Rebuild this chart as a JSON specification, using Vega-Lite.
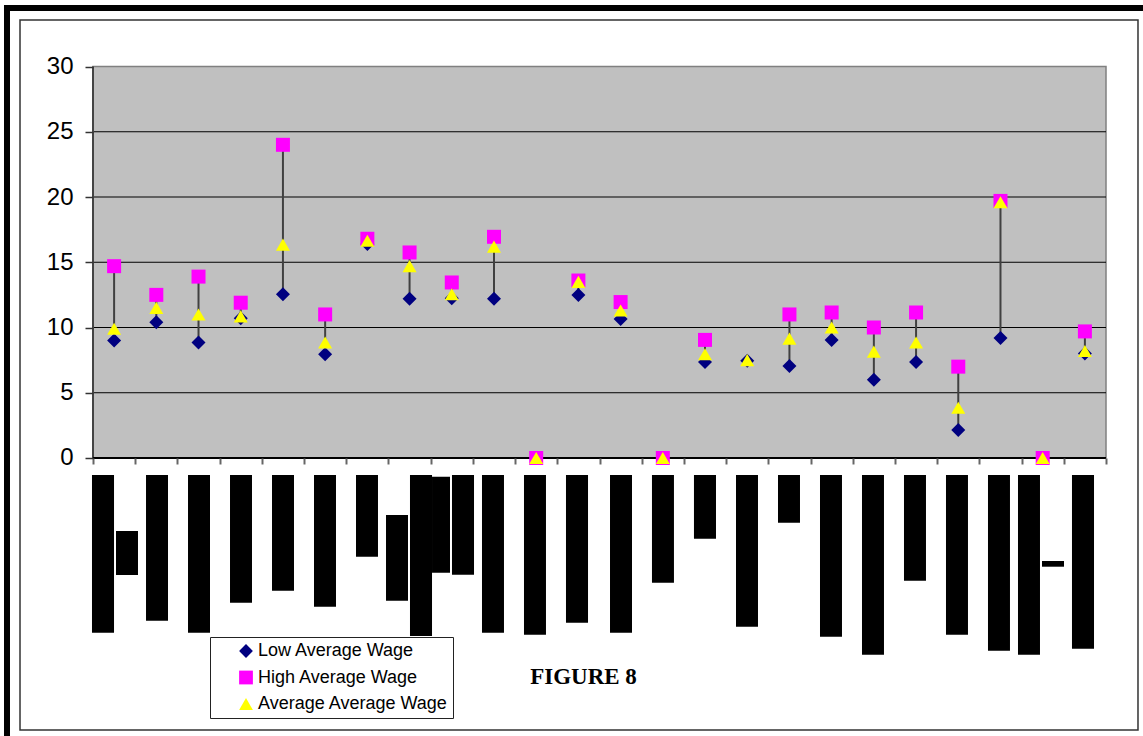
{
  "$schema": "https://vega.github.io/schema/vega-lite/v6.json",
  "width": 1143,
  "height": 736,
  "autosize": "none",
  "padding": 0,
  "background": "white",
  "config": {"view": {"stroke": null}},
  "data": {"values": [
    {"cat": 1, "low": 9.0, "high": 14.7, "avg": 9.9},
    {"cat": 2, "low": 10.4, "high": 12.5, "avg": 11.5},
    {"cat": 3, "low": 8.85, "high": 13.9, "avg": 11.0},
    {"cat": 4, "low": 10.7, "high": 11.9, "avg": 10.85},
    {"cat": 5, "low": 12.55, "high": 24.0, "avg": 16.35},
    {"cat": 6, "low": 7.95, "high": 11.0, "avg": 8.85},
    {"cat": 7, "low": 16.4, "high": 16.8, "avg": 16.65},
    {"cat": 8, "low": 12.2, "high": 15.75, "avg": 14.7},
    {"cat": 9, "low": 12.25, "high": 13.45, "avg": 12.55},
    {"cat": 10, "low": 12.2, "high": 16.95, "avg": 16.2},
    {"cat": 11, "low": 0, "high": 0, "avg": 0},
    {"cat": 12, "low": 12.5, "high": 13.6, "avg": 13.5},
    {"cat": 13, "low": 10.65, "high": 11.95, "avg": 11.3},
    {"cat": 14, "low": 0, "high": 0, "avg": 0},
    {"cat": 15, "low": 7.35, "high": 9.05, "avg": 7.95},
    {"cat": 16, "low": 7.45, "high": null, "avg": 7.5},
    {"cat": 17, "low": 7.05, "high": 11.0, "avg": 9.15},
    {"cat": 18, "low": 9.05, "high": 11.15, "avg": 10.0},
    {"cat": 19, "low": 6.0, "high": 10.0, "avg": 8.15},
    {"cat": 20, "low": 7.35, "high": 11.15, "avg": 8.85},
    {"cat": 21, "low": 2.15, "high": 7.0, "avg": 3.85},
    {"cat": 22, "low": 9.2, "high": 19.7, "avg": 19.6},
    {"cat": 23, "low": 0, "high": 0, "avg": 0},
    {"cat": 24, "low": 8.0, "high": 9.7, "avg": 8.2}
  ]},
  "datasets": {
    "grid": [{"g": 5}, {"g": 10}, {"g": 15}, {"g": 20}, {"g": 25}],
    "labels": [
      {"from": 0.476, "to": 0.998, "start": -1.303, "end": -13.387},
      {"from": 1.045, "to": 1.566, "start": -5.594, "end": -8.966},
      {"from": 1.756, "to": 2.277, "start": -1.303, "end": -12.467},
      {"from": 2.751, "to": 3.272, "start": -1.303, "end": -13.387},
      {"from": 3.746, "to": 4.267, "start": -1.303, "end": -11.088},
      {"from": 4.741, "to": 5.262, "start": -1.303, "end": -10.169},
      {"from": 5.736, "to": 6.257, "start": -1.303, "end": -11.395},
      {"from": 6.731, "to": 7.252, "start": -1.303, "end": -7.563},
      {"from": 7.442, "to": 7.963, "start": -4.368, "end": -10.935},
      {"from": 8.010, "to": 8.532, "start": -1.303, "end": -13.640},
      {"from": 8.532, "to": 8.958, "start": -1.433, "end": -8.789},
      {"from": 9.005, "to": 9.527, "start": -1.303, "end": -8.943},
      {"from": 9.716, "to": 10.237, "start": -1.303, "end": -13.387},
      {"from": 10.711, "to": 11.232, "start": -1.303, "end": -13.540},
      {"from": 11.706, "to": 12.228, "start": -1.303, "end": -12.621},
      {"from": 12.749, "to": 13.270, "start": -1.303, "end": -13.387},
      {"from": 13.743, "to": 14.264, "start": -1.303, "end": -9.556},
      {"from": 14.738, "to": 15.260, "start": -1.303, "end": -6.184},
      {"from": 15.734, "to": 16.255, "start": -1.303, "end": -12.927},
      {"from": 16.729, "to": 17.250, "start": -1.303, "end": -4.958},
      {"from": 17.724, "to": 18.245, "start": -1.303, "end": -13.693},
      {"from": 18.719, "to": 19.240, "start": -1.303, "end": -15.073},
      {"from": 19.714, "to": 20.235, "start": -1.303, "end": -9.402},
      {"from": 20.709, "to": 21.230, "start": -1.303, "end": -13.540},
      {"from": 21.704, "to": 22.225, "start": -1.303, "end": -14.766},
      {"from": 22.415, "to": 22.936, "start": -1.303, "end": -15.073},
      {"from": 22.984, "to": 23.505, "start": -7.893, "end": -8.330},
      {"from": 23.694, "to": 24.216, "start": -1.303, "end": -14.613}
    ]
  },
  "layer": [
    {
      "data": {"values": [{}]},
      "mark": {"type": "rect", "fill": null, "fillOpacity": 0, "stroke": "#333333", "strokeWidth": 1.5},
      "encoding": {
        "x": {"datum": -1.2295, "type": "quantitative", "title": null,
              "scale": {"domain": [-1.70336, 25.3766], "nice": false, "zero": false},
              "axis": {"orient": "bottom", "offset": -278, "values": [0.5,1.5,2.5,3.5,4.5,5.5,6.5,7.5,8.5,9.5,10.5,11.5,12.5,13.5,14.5,15.5,16.5,17.5,18.5,19.5,20.5,21.5,22.5,23.5,24.5],
                       "domain": false, "grid": false, "labels": false, "tickSize": 6, "tickColor": "#666666", "tickWidth": 2, "title": null, "zindex": 1}},
        "x2": {"datum": 25.258},
        "y": {"datum": 33.563, "type": "quantitative", "title": null,
              "scale": {"domain": [-21.3027, 35.0958], "nice": false, "zero": false},
              "axis": {"orient": "left", "offset": -93, "values": [0, 5, 10, 15, 20, 25, 30],
                       "domain": false, "grid": false, "tickSize": 8, "tickColor": "#333333", "tickWidth": 1.5,
                       "labelFont": "Liberation Sans", "labelFontSize": 24, "labelColor": "black", "labelPadding": 12, "title": null, "zindex": 1}},
        "y2": {"datum": -20.843}
      }
    },
    {
      "data": {"values": [{}]},
      "mark": {"type": "rect", "fill": "black"},
      "encoding": {
        "x": {"datum": -1.6086, "type": "quantitative", "title": null, "scale": {"domain": [-1.70336, 25.3766], "nice": false, "zero": false}},
        "x2": {"datum": 25.3766},
        "y": {"datum": 34.713, "type": "quantitative", "title": null, "scale": {"domain": [-21.3027, 35.0958], "nice": false, "zero": false}},
        "y2": {"datum": 34.253}
      }
    },
    {
      "data": {"values": [{}]},
      "mark": {"type": "rect", "fill": "black"},
      "encoding": {
        "x": {"datum": -1.6086, "type": "quantitative", "title": null, "scale": {"domain": [-1.70336, 25.3766], "nice": false, "zero": false}},
        "x2": {"datum": -1.4665},
        "y": {"datum": 34.713, "type": "quantitative", "title": null, "scale": {"domain": [-21.3027, 35.0958], "nice": false, "zero": false}},
        "y2": {"datum": -21.3027}
      }
    },
    {
      "data": {"values": [{}]},
      "mark": {"type": "rect", "fill": "#C0C0C0", "stroke": "#808080", "strokeWidth": 1.5},
      "encoding": {
        "x": {"datum": 0.5, "type": "quantitative", "title": null, "scale": {"domain": [-1.70336, 25.3766], "nice": false, "zero": false}},
        "x2": {"datum": 24.5},
        "y": {"datum": 0, "type": "quantitative", "title": null, "scale": {"domain": [-21.3027, 35.0958], "nice": false, "zero": false}},
        "y2": {"datum": 30}
      }
    },
    {
      "data": {"name": "grid"},
      "mark": {"type": "rule", "color": "black", "strokeWidth": 1},
      "encoding": {
        "x": {"datum": 0.5, "type": "quantitative", "title": null, "scale": {"domain": [-1.70336, 25.3766], "nice": false, "zero": false}},
        "x2": {"datum": 24.5},
        "y": {"field": "g", "type": "quantitative", "title": null, "scale": {"domain": [-21.3027, 35.0958], "nice": false, "zero": false}}
      }
    },
    {
      "data": {"values": [{}]},
      "mark": {"type": "rule", "color": "#444444", "strokeWidth": 2},
      "encoding": {
        "x": {"datum": 0.5, "type": "quantitative", "title": null, "scale": {"domain": [-1.70336, 25.3766], "nice": false, "zero": false}},
        "y": {"datum": 0, "type": "quantitative", "title": null, "scale": {"domain": [-21.3027, 35.0958], "nice": false, "zero": false}},
        "y2": {"datum": 30}
      }
    },
    {
      "data": {"values": [{}]},
      "mark": {"type": "rule", "color": "black", "strokeWidth": 2},
      "encoding": {
        "x": {"datum": 0.5, "type": "quantitative", "title": null, "scale": {"domain": [-1.70336, 25.3766], "nice": false, "zero": false}},
        "x2": {"datum": 24.5},
        "y": {"datum": 0, "type": "quantitative", "title": null, "scale": {"domain": [-21.3027, 35.0958], "nice": false, "zero": false}}
      }
    },
    {
      "data": {"name": "labels"},
      "mark": {"type": "rect", "fill": "black"},
      "encoding": {
        "x": {"field": "from", "type": "quantitative", "title": null, "scale": {"domain": [-1.70336, 25.3766], "nice": false, "zero": false}},
        "x2": {"field": "to"},
        "y": {"field": "start", "type": "quantitative", "title": null, "scale": {"domain": [-21.3027, 35.0958], "nice": false, "zero": false}},
        "y2": {"field": "end"}
      }
    },
    {
      "transform": [{"filter": "datum.high != null"}],
      "mark": {"type": "rule", "color": "#404040", "strokeWidth": 2},
      "encoding": {
        "x": {"field": "cat", "type": "quantitative", "title": null, "scale": {"domain": [-1.70336, 25.3766], "nice": false, "zero": false}},
        "y": {"field": "low", "type": "quantitative", "title": null, "scale": {"domain": [-21.3027, 35.0958], "nice": false, "zero": false}},
        "y2": {"field": "high"}
      }
    },
    {
      "transform": [{"fold": ["low", "high", "avg"], "as": ["series", "wage"]}],
      "mark": {"type": "point", "filled": true, "size": 196, "opacity": 1, "strokeWidth": 0},
      "encoding": {
        "x": {"field": "cat", "type": "quantitative", "title": null, "scale": {"domain": [-1.70336, 25.3766], "nice": false, "zero": false}},
        "y": {"field": "wage", "type": "quantitative", "title": null, "scale": {"domain": [-21.3027, 35.0958], "nice": false, "zero": false}},
        "color": {"field": "series", "type": "nominal",
                  "scale": {"domain": ["low", "high", "avg"], "range": ["#000080", "#FF00FF", "#FFFF00"]},
                  "legend": {"title": null, "orient": "none", "legendX": 210, "legendY": 637, "padding": 5,
                             "symbolOffset": 22, "labelOffset": 3, "rowPadding": 8.5, "labelLimit": 400,
                             "labelFont": "Liberation Sans", "labelFontSize": 18, "labelColor": "black",
                             "strokeColor": "#222222", "fillColor": "white", "symbolSize": 190, "symbolStrokeWidth": 0,
                             "labelExpr": "datum.label == 'low' ? 'Low Average Wage' : datum.label == 'high' ? 'High Average Wage' : 'Average Average Wage'"}},
        "shape": {"field": "series", "type": "nominal",
                  "scale": {"domain": ["low", "high", "avg"], "range": ["diamond", "square", "triangle-up"]}}
      }
    },
    {
      "data": {"values": [{}]},
      "mark": {"type": "text", "text": "FIGURE 8", "font": "Liberation Serif", "fontWeight": "bold", "fontSize": 23, "align": "center", "baseline": "middle", "color": "black"},
      "encoding": {
        "x": {"datum": 12.121, "type": "quantitative", "title": null, "scale": {"domain": [-1.70336, 25.3766], "nice": false, "zero": false}},
        "y": {"datum": -16.782, "type": "quantitative", "title": null, "scale": {"domain": [-21.3027, 35.0958], "nice": false, "zero": false}}
      }
    }
  ]
}
